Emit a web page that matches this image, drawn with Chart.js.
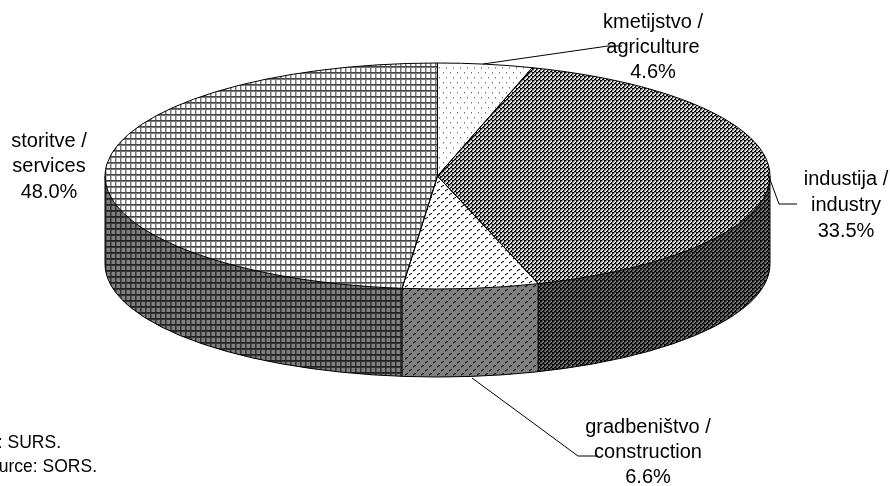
<!DOCTYPE html>
<html>
<head>
<meta charset="utf-8">
<style>
  html, body { margin: 0; padding: 0; background: #fff; overflow: hidden; }
  canvas { display: block; }
</style>
<script src="https://cdn.jsdelivr.net/npm/chart.js@4"></script>
</head>
<body>
<canvas id="sectorChart" width="890" height="486"></canvas>
<script>
// slices, clockwise from 12 o'clock
const categories = ['kmetijstvo / agriculture', 'industija / industry', 'gradbeništvo / construction', 'storitve / services'];
// share of the circle each slice covers in the picture (the printed labels only add up to 92.7)
const sliceShares = [4.6, 40.5, 6.6, 48.3];
const printedLabels = ['4.6%', '33.5%', '6.6%', '48.0%'];
const sourceNotes = ['Vir: SURS.', 'Source: SORS.'];

// 3d look
const faceCx = 437.5, faceCy = 176, faceRx = 332.5, faceRy = 113, depth = 88;

const labelBlocks = [
  { x: 653, y: 22, step: 25, lines: ['kmetijstvo /', 'agriculture', printedLabels[0]] },
  { x: 846, y: 179, step: 26, lines: ['industija /', 'industry', printedLabels[1]] },
  { x: 648, y: 427, step: 25, lines: ['gradbeništvo /', 'construction', printedLabels[2]] },
  { x: 49, y: 141, step: 25.5, lines: ['storitve /', 'services', printedLabels[3]] }
];
const leaders = [
  [[483, 64], [608, 46], [622, 46]],
  [[768, 174], [779, 204], [797, 204]],
  [[472, 378], [578, 456], [598, 456]]
];

// tile bitmaps: k black, d dark grey, g mid grey, l light grey, . paper
const tiles = {
  dots: ['.......', '.......', '..g....', '..l....', '.......', '.......', '.......', '.....g.', '.....l.', '.......'],
  slant: ['kkgl', 'kgl.', 'gl.k', 'l.kk'],
  weave: ['........', '..gk....', '.kg.....', '.l......', '........', '......gk', '.....kg.', '.....l..'],
  grid: ['ddddd', 'ggggg', 'gl...', 'gl...', 'gl...', 'gl...']
};
const faceColors = { k: '#000', d: '#444', g: '#777', l: '#bbb', '.': '#fff' };
const wallColors = { k: '#000', d: '#222', g: '#333', l: '#555', '.': '#808080' };

function makeTile(rows, colors) {
  const c = document.createElement('canvas');
  c.width = rows[0].length;
  c.height = rows.length;
  const g = c.getContext('2d');
  rows.forEach((row, y) => {
    [...row].forEach((ch, x) => {
      g.fillStyle = colors[ch];
      g.fillRect(x, y, 1, 1);
    });
  });
  return g.createPattern(c, 'repeat');
}

const ctx = document.getElementById('sectorChart').getContext('2d');
const tileOrder = ['dots', 'slant', 'weave', 'grid'];
const facePatterns = tileOrder.map(n => makeTile(tiles[n], faceColors));
const wallPatterns = tileOrder.map(n => makeTile(tiles[n], wallColors));

// squash the round pie into the tilted face; dy pushes it down for the wall
function applyFace(c, arc, dy) {
  const r = arc.outerRadius;
  c.translate(faceCx, faceCy + dy);
  c.scale(faceRx / r, faceRy / r);
  c.translate(-arc.x, -arc.y);
}

function pinPattern(c, p) {
  p.setTransform(c.getTransform().inverse());
}

const pie3d = {
  id: 'pie3d',
  beforeDatasetsDraw(chart) {
    const c = chart.ctx;
    const arcs = chart.getDatasetMeta(0).data;
    // side wall: the same arcs stacked downwards
    for (let d = depth; d > 0; d--) {
      c.save();
      applyFace(c, arcs[0], d);
      arcs.forEach((arc, i) => {
        pinPattern(c, wallPatterns[i]);
        const keep = arc.options;
        arc.options = Object.assign({}, keep, { backgroundColor: wallPatterns[i], borderWidth: 0 });
        arc.draw(c);
        arc.options = keep;
      });
      c.restore();
    }
    // library then draws the top face inside this transform
    c.save();
    applyFace(c, arcs[0], 0);
    facePatterns.forEach(p => pinPattern(c, p));
  },
  afterDatasetsDraw(chart) {
    const c = chart.ctx;
    c.restore();
    const arcs = chart.getDatasetMeta(0).data;
    c.strokeStyle = '#000';
    c.lineWidth = 1;
    // slice outlines, stroked outside the squash so the pen stays round
    arcs.forEach(arc => {
      c.save();
      applyFace(c, arc, 0);
      c.beginPath();
      c.moveTo(arc.x, arc.y);
      c.arc(arc.x, arc.y, arc.outerRadius, arc.startAngle, arc.endAngle);
      c.closePath();
      c.restore();
      c.stroke();
    });
    // bottom rim
    c.beginPath();
    c.ellipse(faceCx, faceCy + depth, faceRx, faceRy, 0, 0, Math.PI);
    c.stroke();
    // wall edges
    const edges = [0, Math.PI].concat(arcs.map(a => a.endAngle));
    edges.forEach(a => {
      if (Math.sin(a) < -1e-6) return;
      const x = faceCx + faceRx * Math.cos(a);
      const y = faceCy + faceRy * Math.sin(a);
      c.beginPath();
      c.moveTo(x, y);
      c.lineTo(x, y + depth);
      c.stroke();
    });
    leaders.forEach(pts => {
      c.beginPath();
      pts.forEach((p, i) => (i ? c.lineTo(p[0], p[1]) : c.moveTo(p[0], p[1])));
      c.stroke();
    });
    // labels
    c.fillStyle = '#000';
    c.font = '20px "Liberation Sans", Arial, sans-serif';
    c.textAlign = 'center';
    c.textBaseline = 'middle';
    labelBlocks.forEach(b => {
      b.lines.forEach((t, i) => c.fillText(t, b.x, b.y + i * b.step));
    });
    c.font = '17.5px "Liberation Sans", Arial, sans-serif';
    c.textAlign = 'right';
    c.fillText(sourceNotes[0], 61, 443);
    c.fillText(sourceNotes[1], 97, 467);
  }
};

new Chart(ctx, {
  type: 'pie',
  data: {
    labels: categories,
    datasets: [{
      data: sliceShares,
      backgroundColor: facePatterns,
      borderWidth: 0
    }]
  },
  options: {
    responsive: false,
    animation: false,
    events: [],
    plugins: { legend: { display: false }, tooltip: { enabled: false } }
  },
  plugins: [pie3d]
});
</script>
</body>
</html>
